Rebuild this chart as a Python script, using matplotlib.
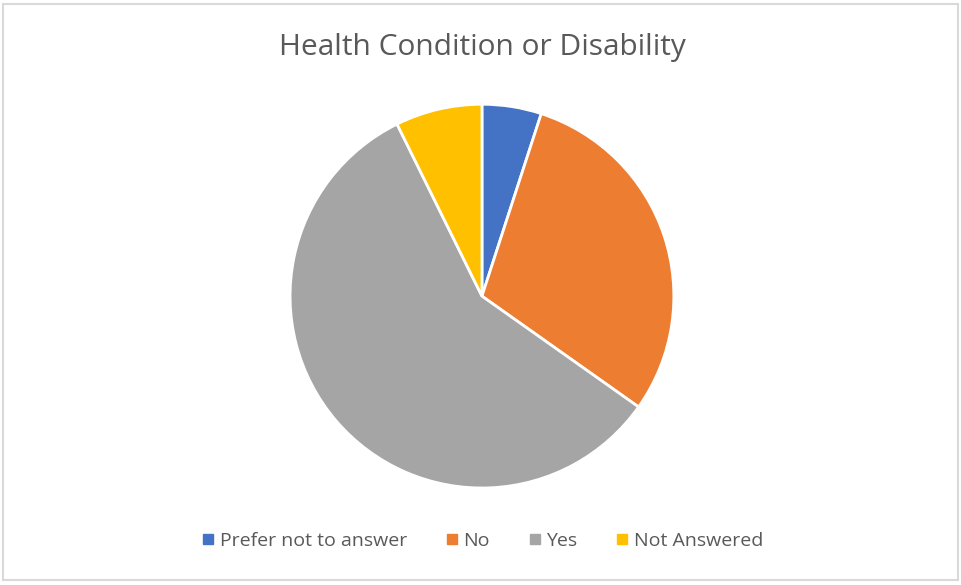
import matplotlib
matplotlib.use('Agg')
import matplotlib.pyplot as plt
from matplotlib.patches import Rectangle
from matplotlib.lines import Line2D

# data (percent)
labels = ['Prefer not to answer', 'No', 'Yes', 'Not Answered']
values = [5.0, 29.8, 57.9, 7.3]
colors = ['#4472C4', '#ED7D31', '#A5A5A5', '#FFC000']

plt.rcParams['font.family'] = ['Open Sans', 'DejaVu Sans']

fig = plt.figure(figsize=(9.62, 5.85), dpi=100)

# light grey chart border
fig.patches.append(Rectangle((0.003, 0.008), 0.993, 0.986, transform=fig.transFigure,
                             fill=False, edgecolor='#D9D9D9', lw=1.5))

ax = fig.add_axes([0.3015, 0.1658, 0.399, 0.656])
ax.pie(values, colors=colors, startangle=90, counterclock=False, radius=1,
       wedgeprops=dict(edgecolor='white', linewidth=2))
ax.set_xlim(-1, 1)
ax.set_ylim(-1, 1)
ax.set_aspect('equal')

fig.text(0.501, 1 - 47 / 585, 'Health Condition or Disability', ha='center', va='center',
         fontsize=21.5, color='#595959')

handles = [Line2D([], [], marker='s', linestyle='none', markersize=7,
                  markerfacecolor=c, markeredgecolor=c) for c in colors]
fig.legend(handles, labels, loc='center', bbox_to_anchor=(0.5, 1 - 541 / 585), ncol=4,
           frameon=False, fontsize=14, labelcolor='#595959', handletextpad=0.1,
           columnspacing=1.8, handlelength=1.0)

fig.savefig('out.png', dpi=100)
